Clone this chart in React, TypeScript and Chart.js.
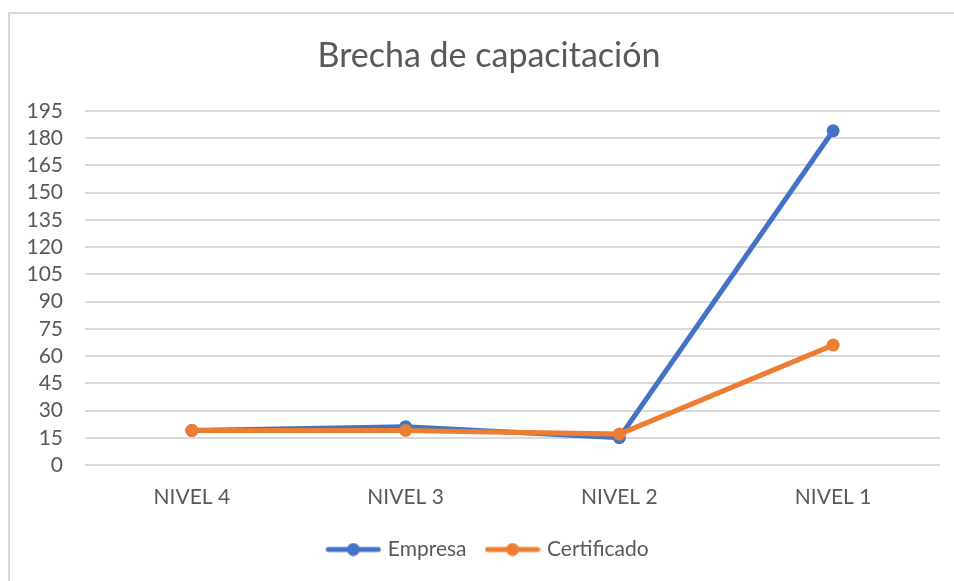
import React, { useEffect, useRef } from "react";
import { Chart, registerables } from "chart.js";

Chart.register(...registerables);

const categories = ["NIVEL 4", "NIVEL 3", "NIVEL 2", "NIVEL 1"];
const empresa = [19, 21, 15, 184];
const certificado = [19, 19, 17, 66];
const seriesNames = ["Empresa", "Certificado"];
const colors = ["#4472C4", "#ED7D31"];
const yMin = 0;
const yMax = 195;
const yStep = 15;

const TEXT = "#595959";
const GRID = "#D9D9D9";
const FONT = "Lato, 'Open Sans', sans-serif";

function legendIcon(color: string) {
  const c = document.createElement("canvas");
  c.width = 56;
  c.height = 14;
  const ctx = c.getContext("2d")!;
  ctx.strokeStyle = color;
  ctx.lineWidth = 5;
  ctx.lineCap = "round";
  ctx.beginPath();
  ctx.moveTo(3, 7);
  ctx.lineTo(53, 7);
  ctx.stroke();
  ctx.fillStyle = color;
  ctx.beginPath();
  ctx.arc(28, 7, 6.5, 0, Math.PI * 2);
  ctx.fill();
  return c;
}

export default function App() {
  const ref = useRef<HTMLCanvasElement>(null);
  useEffect(() => {
    if (!ref.current) return;
    const icons = colors.map(legendIcon);
    const chart = new Chart(ref.current, {
      type: "line",
      data: {
        labels: categories,
        datasets: [
          {
            label: seriesNames[0],
            data: empresa,
            borderColor: colors[0],
            backgroundColor: colors[0],
            borderWidth: 5,
            pointRadius: 6.5,
            pointBorderWidth: 0,
            pointBackgroundColor: colors[0],
            order: 1,
          },
          {
            label: seriesNames[1],
            data: certificado,
            borderColor: colors[1],
            backgroundColor: colors[1],
            borderWidth: 5,
            pointRadius: 6.5,
            pointBorderWidth: 0,
            pointBackgroundColor: colors[1],
            order: 0,
          },
        ],
      },
      options: {
        responsive: false,
        animation: false,
        layout: { padding: { left: 0, right: 0, top: 0, bottom: 11 } },
        scales: {
          x: {
            offset: true,
            grid: { display: false, drawTicks: false },
            border: { display: false },
            ticks: { color: TEXT, font: { family: FONT, size: 21 }, padding: 20, autoSkip: false },
            afterFit: (s: any) => {
              s.height = 52;
            },
          },
          y: {
            min: yMin,
            max: yMax,
            grid: { color: GRID, lineWidth: 2, drawTicks: false },
            border: { display: false },
            ticks: {
              stepSize: yStep,
              autoSkip: false,
              color: TEXT,
              font: { family: FONT, size: 21 },
              padding: 22,
            },
            afterFit: (s: any) => {
              s.width = 75;
            },
          },
          yRightSpace: {
            type: "linear",
            position: "right",
            min: yMin,
            max: yMax,
            grid: { display: false, drawTicks: false },
            border: { display: false },
            ticks: { display: false },
            afterFit: (s: any) => {
              s.width = 28;
            },
          },
        },
        plugins: {
          title: {
            display: true,
            text: "Brecha de capacitación",
            color: TEXT,
            font: { family: FONT, size: 34, weight: "normal" },
            padding: { top: 22, bottom: 34 },
          },
          legend: {
            position: "bottom",
            labels: {
              color: TEXT,
              font: { family: FONT, size: 21 },
              usePointStyle: true,
              pointStyleWidth: 48,
              padding: 22,
              generateLabels: () =>
                seriesNames.map((n, i) => ({
                  text: n,
                  fillStyle: colors[i],
                  strokeStyle: colors[i],
                  lineWidth: 0,
                  pointStyle: icons[i] as any,
                  datasetIndex: i,
                  hidden: false,
                  fontColor: TEXT,
                })),
            },
          },
          tooltip: { enabled: false },
        },
      },
    });
    return () => chart.destroy();
  }, []);

  return (
    <div
      style={{
        position: "absolute",
        left: 8,
        top: 12,
        width: 946,
        height: 569,
        borderLeft: "2px solid #D9D9D9",
        borderTop: "2px solid #D9D9D9",
        boxSizing: "border-box",
        background: "#fff",
        overflow: "hidden",
      }}
    >
      <canvas ref={ref} width={958} height={567} style={{ display: "block" }} />
    </div>
  );
}
